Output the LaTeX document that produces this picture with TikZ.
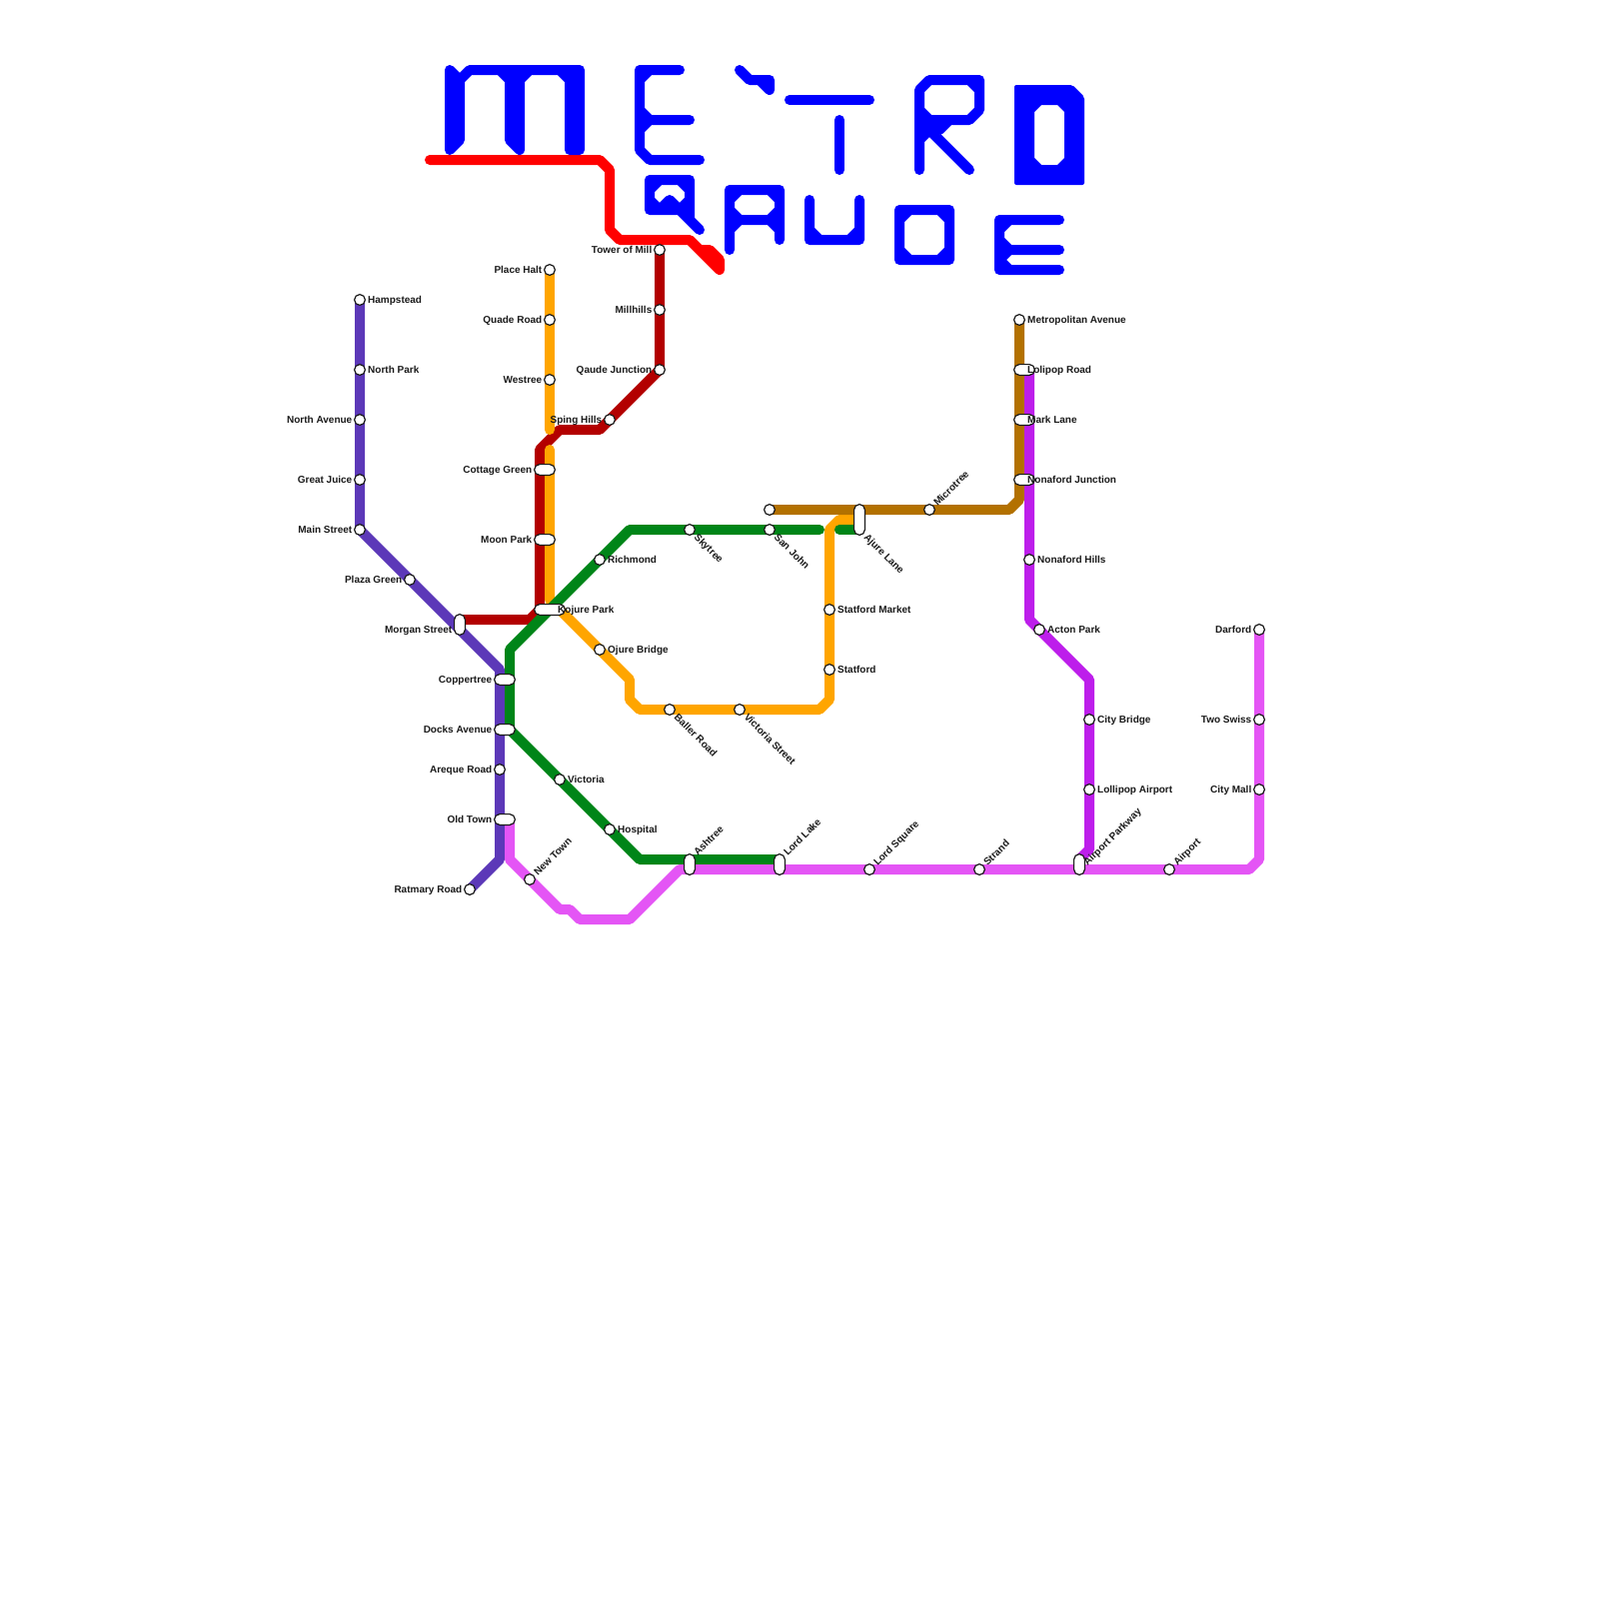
\documentclass[tikz,border=0pt]{standalone}
\usepackage{fontspec}
\setmainfont{Liberation Sans}
\usetikzlibrary{backgrounds,shapes.misc}
\definecolor{LineViolet}{HTML}{5C38B8}
\definecolor{LineMaroon}{HTML}{B30000}
\definecolor{LineOrange}{HTML}{FFA500}
\definecolor{LineGreen}{HTML}{008518}
\definecolor{LineBrown}{HTML}{B37100}
\definecolor{LineMagenta}{HTML}{BD1EEB}
\definecolor{LinePink}{HTML}{E455F5}
\definecolor{LineRed}{HTML}{FF0000}
\definecolor{TitleBlue}{HTML}{0000FF}
\definecolor{InkDark}{HTML}{1A1A1A}
\tikzset{
  stn/.style={circle, draw=InkDark, line width=0.12mm, fill=white,
             minimum size=1.08mm, inner sep=0pt},
  pill/.style={rounded rectangle, draw=InkDark, line width=0.12mm, fill=white,
             minimum height=1.08mm, minimum width=2.08mm, inner sep=0pt},
  pilllong/.style={pill, minimum width=3.08mm},
  metro/.style={line width=1mm, line cap=round, line join=round},
  glyph/.style={line width=1mm, line cap=round, line join=round, draw=TitleBlue},
  lbl/.style={font=\fontsize{2.845pt}{3.4pt}\selectfont\bfseries, text=InkDark,
             inner sep=0pt, text height=0.8mm, text depth=0.2mm},
  lblr/.style={lbl, xshift=-0.05mm, anchor=west},
  lbll/.style={lbl, xshift=0.1mm, anchor=east},
  lblne/.style={lbl, yshift=-0.1mm, anchor=west, rotate=45},
  lblse/.style={lbl, anchor=west, rotate=-45},
}
\begin{document}
\begin{tikzpicture}[x=0.1mm, y=-0.1mm]
\useasboundingbox (0,0) rectangle (1600,1600);
\node[stn] (hampstead) at (360,300) {};
\node[lblr] (hampsteadtxt) at (368,300) {Hampstead};
\node[stn] (northpark) at (360,370) {};
\node[lblr] (northparktxt) at (368,370) {North Park};
\node[stn] (northave) at (360,420) {};
\node[lbll] (northavetxt) at (352,420) {North Avenue};
\node[stn] (greatjuice) at (360,480) {};
\node[lbll] (greatjuicetxt) at (352,480) {Great Juice};
\node[stn] (mainst) at (360,530) {};
\node[lbll] (mainsttxt) at (352,530) {Main Street};
\node[stn] (plazagreen) at (410,580) {};
\node[lbll] (plazagreentxt) at (402,580) {Plaza Green};
\node[pill, rotate=90] (morgan) at (460,625) {};
\node[lbll] (morgantxt) at (452,630) {Morgan Street};
\node[pill] (coppertree) at (505,680) {};
\node[lbll] (coppertreetxt) at (492,680) {Coppertree};
\node[pill] (docks) at (505,730) {};
\node[lbll] (dockstxt) at (492,730) {Docks Avenue};
\node[stn] (areque) at (500,770) {};
\node[lbll] (arequetxt) at (492,770) {Areque Road};
\node[pill] (oldtown) at (505,820) {};
\node[lbll] (oldtowntxt) at (492,820) {Old Town};
\node[stn] (ratmary) at (470,890) {};
\node[lbll] (ratmarytxt) at (462,890) {Ratmary Road};
\node[stn] (towermill) at (660,250) {};
\node[lbll] (towermilltxt) at (652,250) {Tower of Mill};
\node[stn] (millhills) at (660,310) {};
\node[lbll] (millhillstxt) at (652,310) {Millhills};
\node[stn] (qaude) at (660,370) {};
\node[lbll] (qaudetxt) at (652,370) {Qaude Junction};
\node[stn] (spinghills) at (610,420) {};
\node[lbll] (spinghillstxt) at (602,420) {Sping Hills};
\node[pill] (cottage) at (545,470) {};
\node[lbll] (cottagetxt) at (532,470) {Cottage Green};
\node[pill] (moonpark) at (545,540) {};
\node[lbll] (moonparktxt) at (532,540) {Moon Park};
\node[pilllong] (kojure) at (550,610) {};
\node[lblr] (kojuretxt) at (558,610) {Kojure Park};
\node[stn] (placehalt) at (550,270) {};
\node[lbll] (placehalttxt) at (542,270) {Place Halt};
\node[stn] (quade) at (550,320) {};
\node[lbll] (quadetxt) at (542,320) {Quade Road};
\node[stn] (westree) at (550,380) {};
\node[lbll] (westreetxt) at (542,380) {Westree};
\node[stn] (ojure) at (600,650) {};
\node[lblr] (ojuretxt) at (608,650) {Ojure Bridge};
\node[stn] (baller) at (670,710) {};
\node[lblse] (ballertxt) at (675.7,715.7) {Baller Road};
\node[stn] (victoriast) at (740,710) {};
\node[lblse] (victoriasttxt) at (745.7,715.7) {Victoria Street};
\node[stn] (statfordm) at (830,670) {};
\node[lblr] (statfordmtxt) at (838,670) {Statford};
\node[stn] (statfordk) at (830,610) {};
\node[lblr] (statfordktxt) at (838,610) {Statford Market};
\node[pilllong, rotate=90] (ajure) at (860,520) {};
\node[lblse] (ajuretxt) at (865.7,535.7) {Ajure Lane};
\node[stn] (richmond) at (600,560) {};
\node[lblr] (richmondtxt) at (608,560) {Richmond};
\node[stn] (skytree) at (690,530) {};
\node[lblse] (skytreetxt) at (695.7,535.7) {Skytree};
\node[stn] (sanjohn) at (770,530) {};
\node[lblse] (sanjohntxt) at (775.7,535.7) {San John};
\node[stn] (victoria) at (560,780) {};
\node[lblr] (victoriatxt) at (568,780) {Victoria};
\node[stn] (hospital) at (610,830) {};
\node[lblr] (hospitaltxt) at (618,830) {Hospital};
\node[pill, rotate=90] (ashtree) at (690,865) {};
\node[lblne] (ashtreetxt) at (695.7,854.3) {Ashtree};
\node[pill, rotate=90] (lordlake) at (780,865) {};
\node[lblne] (lordlaketxt) at (785.7,854.3) {Lord Lake};
\node[stn] (brownstn) at (770,510) {};
\node[stn] (microtree) at (930,510) {};
\node[lblne] (microtreetxt) at (935.7,504.3) {Microtree};
\node[stn] (metropolitan) at (1020,320) {};
\node[lblr] (metropolitantxt) at (1028,320) {Metropolitan Avenue};
\node[pill] (lolipop) at (1025,370) {};
\node[lblr] (lolipoptxt) at (1028,370) {Lolipop Road};
\node[pill] (marklane) at (1025,420) {};
\node[lblr] (marklanetxt) at (1028,420) {Mark Lane};
\node[pill] (nonafordj) at (1025,480) {};
\node[lblr] (nonafordjtxt) at (1028,480) {Nonaford Junction};
\node[stn] (nonafordh) at (1030,560) {};
\node[lblr] (nonafordhtxt) at (1038,560) {Nonaford Hills};
\node[stn] (acton) at (1040,630) {};
\node[lblr] (actontxt) at (1048,630) {Acton Park};
\node[stn] (citybridge) at (1090,720) {};
\node[lblr] (citybridgetxt) at (1098,720) {City Bridge};
\node[stn] (lollipopair) at (1090,790) {};
\node[lblr] (lollipopairtxt) at (1098,790) {Lollipop Airport};
\node[pill, rotate=90] (airparkway) at (1080,865) {};
\node[lblne] (airparkwaytxt) at (1085.7,864.3) {Airport Parkway};
\node[stn] (newtown) at (530,880) {};
\node[lblne] (newtowntxt) at (535.7,874.3) {New Town};
\node[stn] (lordsquare) at (870,870) {};
\node[lblne] (lordsquaretxt) at (875.7,864.3) {Lord Square};
\node[stn] (strand) at (980,870) {};
\node[lblne] (strandtxt) at (985.7,864.3) {Strand};
\node[stn] (airport) at (1170,870) {};
\node[lblne] (airporttxt) at (1175.7,864.3) {Airport};
\node[stn] (citymall) at (1260,790) {};
\node[lbll] (citymalltxt) at (1252,790) {City Mall};
\node[stn] (twoswiss) at (1260,720) {};
\node[lbll] (twoswisstxt) at (1252,720) {Two Swiss};
\node[stn] (darford) at (1260,630) {};
\node[lbll] (darfordtxt) at (1252,630) {Darford};
\coordinate (maroonend) at (460,620);
\coordinate (orangegapa) at (550,430);
\coordinate (orangegapb) at (550,450);
\coordinate (orangeend) at (860,520);
\coordinate (greenstub) at (840,530);
\coordinate (greenstubend) at (860,530);
\coordinate (greencut) at (820,530);
\coordinate (greenend) at (780,860);
\coordinate (magentatop) at (1030,370);
\coordinate (magentaend) at (1080,860);
\coordinate (pinktop) at (510,820);
\coordinate (redstart) at (430,160);
\coordinate (redend) at (720,270);
\coordinate (redstep) at (700,250);
\begin{scope}[on background layer]
\draw[metro, LineViolet] (hampstead.center) -- (mainst.center) -- (500,670) -- (500,860) -- (ratmary.center);
\draw[metro, LineMaroon] (towermill.center) -- (qaude.center) -- (600,430) -- (560,430) -- (540,450) -- (540,610) -- (530,620) -- (maroonend);
\draw[metro, LineOrange] (placehalt.center) -- (orangegapa);
\draw[metro, LineOrange] (orangegapb) -- (550,600) -- (630,680) -- (630,700) -- (640,710) -- (820,710) -- (830,700) -- (830,530) -- (840,520) -- (orangeend);
\draw[metro, LineGreen] (greencut) -- (630,530) -- (510,650) -- (510,730) -- (640,860) -- (greenend);
\draw[metro, LineGreen] (greenstub) -- (greenstubend);
\draw[metro, LineBrown] (metropolitan.center) -- (1020,500) -- (1010,510) -- (brownstn.center);
\draw[metro, LineMagenta] (magentatop) -- (1030,620) -- (1090,680) -- (1090,850) -- (magentaend);
\draw[metro, LinePink] (pinktop) -- (510,860) -- (560,910) -- (570,910) -- (580,920) -- (630,920) -- (680,870) -- (1250,870) -- (1260,860) -- (darford.center);
\draw[metro, LineRed] (redstart) -- (600,160) -- (610,170) -- (610,230) -- (620,240) -- (690,240) -- (redend) -- (720,260) -- (710,250) -- (redstep);
\end{scope}
\draw[glyph] (450,70) -- (450,150) (460,140) -- (460,80) (450,150) -- (460,140) (450,70) -- (460,80) -- (470,70) -- (580,70) -- (580,150) -- (570,150) -- (570,80) -- (560,70) (500,70) -- (510,80) -- (510,140) -- (520,150) -- (520,80) -- (530,70) (510,80) -- (520,80) (570,80) -- (580,80);
\draw[glyph] (680,70) -- (640,70) -- (640,150) -- (650,160) -- (700,160) (650,70) -- (640,80) (640,110) -- (650,120) -- (690,120) (640,130) -- (650,120);
\draw[glyph] (700,230) -- (690,220) -- (690,180) -- (650,180) -- (650,210) -- (680,210) -- (690,220) (660,180) -- (650,190) (680,180) -- (690,190) (650,200) -- (660,210) -- (670,200) -- (680,210) -- (690,200);
\draw[glyph] (740,70) -- (750,80) -- (770,80) -- (770,90) -- (760,80);
\draw[glyph] (790,100) -- (870,100) (840,120) -- (840,170);
\draw[glyph] (920,170) -- (920,90) -- (930,80) -- (980,80) -- (980,110) -- (970,120) -- (930,120) -- (920,110) (970,80) -- (980,90) (950,120) -- (940,130) -- (930,130) -- (920,140) (930,120) -- (930,130) -- (970,170);
\fill[TitleBlue, even odd rule, rounded corners=0.2mm] (1015,85) -- (1073,85) -- (1085,97) -- (1085,185) -- (1015,185) -- cycle [sharp corners] (1042,105) -- (1058,105) -- (1065,112) -- (1065,158) -- (1058,165) -- (1042,165) -- (1035,158) -- (1035,112) -- cycle;
\draw[glyph] (730,250) -- (730,190) -- (780,190) -- (780,240) (730,200) -- (740,190) (770,190) -- (780,200) (780,210) -- (770,220) -- (740,220) -- (730,210) (730,230) -- (740,220) (770,220) -- (780,230);
\draw[glyph] (810,200) -- (810,240) -- (860,240) -- (860,200) (810,230) -- (820,240) (860,230) -- (850,240);
\draw[glyph] (900,210) -- (950,210) -- (950,260) -- (900,260) -- cycle (900,220) -- (910,210) (940,210) -- (950,220) (950,250) -- (940,260) (910,260) -- (900,250);
\draw[glyph] (1060,220) -- (1000,220) -- (1000,270) -- (1060,270) (1000,230) -- (1010,220) (1000,240) -- (1010,250) -- (1060,250) (1010,250) -- (1000,260) -- (1010,270);
\end{tikzpicture}
\end{document}
